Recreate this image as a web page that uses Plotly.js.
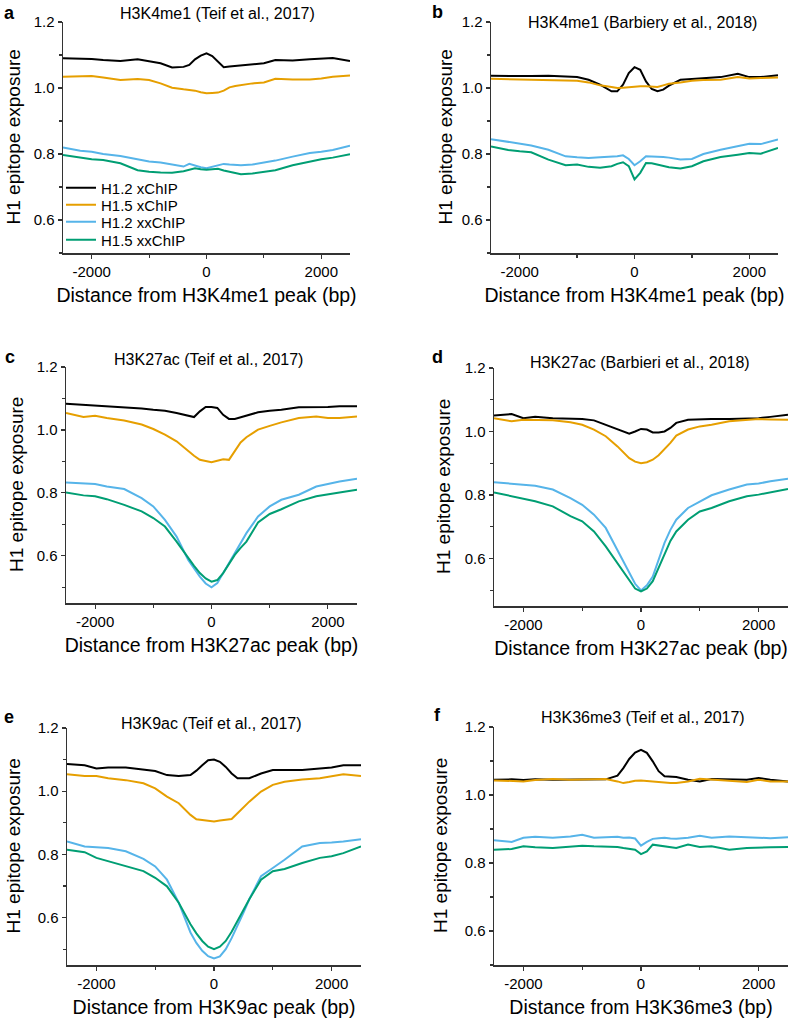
<!DOCTYPE html>
<html>
<head>
<meta charset="utf-8">
<script src="https://cdn.plot.ly/plotly-3.0.1.min.js"></script>
<style>
  html, body { margin: 0; padding: 0; background: #fff; }
  #chart { width: 797px; height: 1025px; }
</style>
</head>
<body>
<div id="chart"></div>
<script>
// Shared x positions (bp from peak)
const distance = [-2500,-2200,-2000,-1800,-1500,-1200,-1000,-800,-600,-400,-300,-200,-100,0,100,200,300,400,500,600,800,1000,1200,1500,1800,2000,2200,2500];

const seriesNames = ["H1.2 xChIP", "H1.5 xChIP", "H1.2 xxChIP", "H1.5 xxChIP"];
const seriesColors = ["#000000", "#E69F00", "#56B4E9", "#009E73"];

// Panel a: H3K4me1 (Teif et al., 2017)
const a_h12x  = [1.090,1.089,1.088,1.085,1.082,1.087,1.080,1.075,1.062,1.064,1.070,1.087,1.098,1.105,1.097,1.080,1.063,1.065,1.067,1.068,1.072,1.075,1.085,1.083,1.087,1.090,1.091,1.082];
const a_h15x  = [1.034,1.036,1.036,1.032,1.024,1.027,1.024,1.014,1.001,0.996,0.994,0.992,0.987,0.984,0.985,0.986,0.992,1.002,1.006,1.009,1.014,1.017,1.028,1.026,1.026,1.029,1.034,1.038];
const a_h12xx = [0.820,0.810,0.807,0.800,0.794,0.784,0.777,0.774,0.767,0.762,0.770,0.764,0.760,0.757,0.762,0.766,0.770,0.768,0.766,0.766,0.768,0.773,0.780,0.792,0.803,0.807,0.812,0.825];
const a_h15xx = [0.797,0.788,0.784,0.782,0.772,0.751,0.746,0.744,0.743,0.748,0.752,0.757,0.754,0.752,0.754,0.755,0.750,0.746,0.742,0.739,0.741,0.746,0.751,0.766,0.777,0.784,0.789,0.799];

// Panel b: H3K4me1 (Barbiery et al., 2018)
const b_h12x  = [1.037,1.036,1.035,1.036,1.037,1.035,1.033,1.025,1.010,0.990,0.990,1.010,1.045,1.063,1.055,1.020,0.997,0.990,0.995,1.007,1.025,1.027,1.030,1.033,1.043,1.033,1.033,1.039];
const b_h15x  = [1.028,1.027,1.027,1.026,1.024,1.023,1.022,1.017,1.008,1.003,1.000,1.001,1.003,1.005,1.005,1.005,1.004,1.003,1.008,1.013,1.017,1.022,1.024,1.025,1.033,1.029,1.030,1.032];
const b_h12xx = [0.845,0.836,0.831,0.826,0.813,0.793,0.790,0.788,0.790,0.791,0.793,0.796,0.785,0.766,0.778,0.793,0.793,0.793,0.791,0.789,0.783,0.785,0.800,0.813,0.823,0.831,0.830,0.844];
const b_h15xx = [0.823,0.812,0.808,0.805,0.783,0.766,0.768,0.761,0.758,0.763,0.770,0.775,0.763,0.723,0.743,0.773,0.772,0.768,0.764,0.760,0.756,0.763,0.778,0.791,0.798,0.803,0.801,0.818];

// Panel c: H3K27ac (Teif et al., 2017)
const c_h12x  = [1.083,1.080,1.077,1.076,1.073,1.068,1.064,1.061,1.054,1.045,1.041,1.059,1.073,1.073,1.070,1.048,1.035,1.035,1.040,1.045,1.056,1.061,1.064,1.072,1.072,1.073,1.075,1.075];
const c_h15x  = [1.054,1.041,1.045,1.038,1.030,1.017,1.003,0.985,0.964,0.932,0.918,0.905,0.900,0.897,0.902,0.907,0.905,0.932,0.960,0.977,1.001,1.013,1.024,1.038,1.043,1.038,1.038,1.043];
const c_h12xx = [0.833,0.830,0.828,0.820,0.812,0.783,0.757,0.714,0.661,0.587,0.560,0.534,0.512,0.500,0.513,0.545,0.575,0.608,0.640,0.672,0.725,0.757,0.778,0.794,0.820,0.829,0.836,0.845];
const c_h15xx = [0.801,0.792,0.789,0.780,0.762,0.741,0.720,0.693,0.645,0.592,0.568,0.545,0.528,0.518,0.523,0.545,0.572,0.603,0.625,0.645,0.706,0.733,0.748,0.773,0.789,0.794,0.801,0.810];

// Panel d: H3K27ac (Barbieri et al., 2018)
const d_h12x  = [1.050,1.055,1.042,1.046,1.042,1.040,1.039,1.035,1.021,1.006,1.000,0.993,1.000,1.008,1.006,0.997,0.997,1.000,1.011,1.027,1.037,1.039,1.039,1.039,1.040,1.042,1.046,1.053];
const d_h15x  = [1.042,1.032,1.037,1.036,1.035,1.029,1.021,1.006,0.985,0.953,0.935,0.916,0.905,0.900,0.903,0.911,0.925,0.943,0.964,0.987,1.006,1.016,1.021,1.032,1.036,1.039,1.038,1.037];
const d_h12xx = [0.840,0.836,0.833,0.829,0.817,0.790,0.769,0.738,0.696,0.627,0.590,0.554,0.520,0.499,0.515,0.543,0.595,0.649,0.690,0.722,0.759,0.780,0.799,0.817,0.833,0.836,0.843,0.851];
const d_h15xx = [0.808,0.796,0.787,0.780,0.764,0.733,0.717,0.685,0.638,0.585,0.555,0.528,0.505,0.496,0.505,0.528,0.570,0.617,0.655,0.685,0.722,0.748,0.759,0.780,0.796,0.801,0.808,0.819];

// Panel e: H3K9ac (Teif et al., 2017)
const e_h12x  = [1.086,1.082,1.072,1.075,1.075,1.069,1.064,1.051,1.048,1.051,1.065,1.082,1.098,1.100,1.093,1.077,1.056,1.041,1.040,1.041,1.056,1.067,1.067,1.067,1.072,1.075,1.082,1.082];
const e_h15x  = [1.054,1.048,1.048,1.041,1.035,1.025,1.009,0.983,0.962,0.925,0.911,0.909,0.906,0.904,0.907,0.909,0.912,0.930,0.950,0.967,0.999,1.020,1.030,1.037,1.041,1.048,1.054,1.048];
const e_h12xx = [0.841,0.825,0.823,0.820,0.810,0.786,0.762,0.720,0.647,0.553,0.520,0.495,0.478,0.471,0.477,0.500,0.535,0.574,0.615,0.658,0.731,0.757,0.783,0.825,0.836,0.838,0.841,0.848];
const e_h15xx = [0.815,0.807,0.789,0.778,0.762,0.747,0.726,0.699,0.647,0.579,0.550,0.526,0.508,0.500,0.508,0.526,0.555,0.589,0.623,0.658,0.720,0.747,0.754,0.773,0.789,0.794,0.804,0.825];

// Panel f: H3K36me3 (Teif et al., 2017)
const f_h12x  = [1.045,1.046,1.044,1.046,1.045,1.045,1.044,1.045,1.046,1.057,1.079,1.106,1.125,1.133,1.124,1.099,1.070,1.055,1.053,1.053,1.045,1.040,1.047,1.045,1.045,1.050,1.045,1.040];
const f_h15x  = [1.043,1.042,1.040,1.044,1.047,1.045,1.045,1.045,1.047,1.040,1.035,1.038,1.042,1.043,1.041,1.039,1.037,1.036,1.035,1.035,1.040,1.048,1.046,1.043,1.038,1.045,1.040,1.040];
const f_h12xx = [0.867,0.862,0.874,0.877,0.874,0.878,0.883,0.874,0.876,0.877,0.874,0.875,0.872,0.851,0.862,0.871,0.873,0.874,0.872,0.871,0.874,0.880,0.874,0.878,0.876,0.874,0.873,0.876];
const f_h15xx = [0.839,0.841,0.849,0.846,0.844,0.848,0.851,0.849,0.849,0.847,0.844,0.842,0.839,0.826,0.834,0.854,0.852,0.849,0.846,0.844,0.854,0.847,0.849,0.839,0.844,0.846,0.846,0.847];

const panelTitles = ["H3K4me1 (Teif et al., 2017)", "H3K4me1 (Barbiery et al., 2018)", "H3K27ac (Teif et al., 2017)", "H3K27ac (Barbieri et al., 2018)", "H3K9ac (Teif et al., 2017)", "H3K36me3 (Teif et al., 2017)"];
const panelLetters = ["a","b","c","d","e","f"];
const xTitles = ["Distance from H3K4me1 peak (bp)", "Distance from H3K4me1 peak (bp)", "Distance from H3K27ac peak (bp)", "Distance from H3K27ac peak (bp)", "Distance from H3K9ac peak (bp)", "Distance from H3K36me3 (bp)"];
const yTitle = "H1 epitope exposure";
const xTickVals = [-2000, 0, 2000];
const yTickVals = [0.6, 0.8, 1.0, 1.2];

const panelData = [
  [a_h12x, a_h15x, a_h12xx, a_h15xx],
  [b_h12x, b_h15x, b_h12xx, b_h15xx],
  [c_h12x, c_h15x, c_h12xx, c_h15xx],
  [d_h12x, d_h15x, d_h12xx, d_h15xx],
  [e_h12x, e_h15x, e_h12xx, e_h15xx],
  [f_h12x, f_h15x, f_h12xx, f_h15xx]
];
const yMin = [0.5, 0.5, 0.45, 0.45, 0.45, 0.5];

// layout geometry (pixels)
const W = 797, H = 1025;
const boxes = [ // [left, right, top, bottom] in px
  [63, 350, 22, 253],
  [491, 778, 22, 253],
  [66, 357, 367, 603],
  [494, 788, 368, 606],
  [67, 361, 728, 965],
  [494, 788, 727, 965]
];
const titlePos = [[217,13],[642,22],[208,359],[640,362],[212,723],[643,717]];
const letterPos = [[9,13],[437,12],[10,357],[437,357],[9,717],[437,715]];
const yTitleX = [13, 445, 16, 443, 13, 440];
const legendRowY = [188, 205, 222, 240];

const FONT = 'Arial, "Liberation Sans", Helvetica, sans-serif';
const AXC = '#333333';

const traces = [];
const layout = {
  width: W, height: H,
  margin: {l:0, r:0, t:0, b:0},
  paper_bgcolor: '#ffffff', plot_bgcolor: '#ffffff',
  font: {family: FONT, color: '#000', size: 15},
  showlegend: true,
  annotations: []
};

// one single-entry legend per series so the rows sit as tight as in the figure
legendRowY.forEach((py, i) => {
  const key = i === 0 ? 'legend' : 'legend' + (i + 1);
  layout[key] = {
    x: 61 / W, y: 1 - py / H, xanchor: 'left', yanchor: 'middle',
    bgcolor: 'rgba(0,0,0,0)', borderwidth: 0,
    font: {family: FONT, size: 15, color: '#000'}
  };
});

panelData.forEach((series, p) => {
  const sfx = p === 0 ? '' : String(p + 1);
  series.forEach((vals, s) => {
    const tr = {
      type: 'scatter', mode: 'lines',
      x: distance, y: vals,
      name: seriesNames[s],
      line: {color: seriesColors[s], width: 2},
      xaxis: 'x' + sfx, yaxis: 'y' + sfx,
      showlegend: p === 0,
      hoverinfo: 'skip'
    };
    if (p === 0) tr.legend = s === 0 ? 'legend' : 'legend' + (s + 1);
    traces.push(tr);
  });
  const [l, r, t, b] = boxes[p];
  layout['xaxis' + sfx] = {
    domain: [l / W, r / W],
    anchor: 'y' + sfx,
    range: [-2500, 2500],
    tickvals: xTickVals, ticktext: xTickVals.map(String),
    ticks: 'outside', ticklen: 4, tickwidth: 1.2, tickcolor: AXC,
    minor: {tickvals: [-1000, 1000], ticks: 'outside', ticklen: 3, tickwidth: 1.2, tickcolor: AXC},
    showline: true, linecolor: AXC, linewidth: 1.5,
    showgrid: false, zeroline: false,
    tickfont: {family: FONT, size: 15, color: '#000'},
    title: {text: xTitles[p], font: {family: FONT, size: 19.5, color: '#000'}, standoff: 10}
  };
  layout['yaxis' + sfx] = {
    domain: [1 - b / H, 1 - t / H],
    anchor: 'x' + sfx,
    range: [yMin[p], 1.2],
    tickvals: yTickVals, ticktext: yTickVals.map(v => v.toFixed(1)),
    ticks: 'outside', ticklen: 4, tickwidth: 1.2, tickcolor: AXC,
    minor: {tickvals: [0.5, 0.7, 0.9, 1.1], ticks: 'outside', ticklen: 3, tickwidth: 1.2, tickcolor: AXC},
    showline: true, linecolor: AXC, linewidth: 1.5,
    showgrid: false, zeroline: false,
    tickfont: {family: FONT, size: 15, color: '#000'}
  };
  layout.annotations.push({
    text: panelTitles[p], xref: 'paper', yref: 'paper',
    x: titlePos[p][0] / W, y: 1 - titlePos[p][1] / H,
    xanchor: 'center', yanchor: 'middle', showarrow: false,
    font: {family: FONT, size: 16, color: '#000'}
  });
  layout.annotations.push({
    text: '<b>' + panelLetters[p] + '</b>', xref: 'paper', yref: 'paper',
    x: letterPos[p][0] / W, y: 1 - letterPos[p][1] / H,
    xanchor: 'center', yanchor: 'middle', showarrow: false,
    font: {family: FONT, size: 18, color: '#000'}
  });
  layout.annotations.push({
    text: yTitle, xref: 'paper', yref: 'paper',
    x: yTitleX[p] / W, y: 1 - ((t + b) / 2) / H,
    xanchor: 'center', yanchor: 'middle', showarrow: false, textangle: -90,
    font: {family: FONT, size: 19, color: '#000'}
  });
});

Plotly.newPlot('chart', traces, layout, {displayModeBar: false, staticPlot: true});
</script>
</body>
</html>
